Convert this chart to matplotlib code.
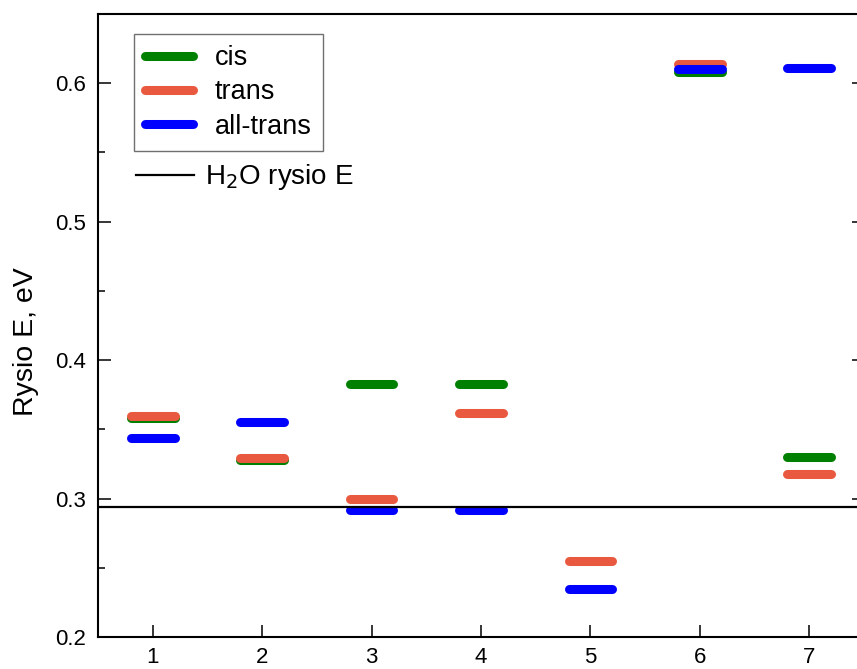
import numpy as np
import matplotlib
matplotlib.use("Agg")
import matplotlib.pyplot as plt
from matplotlib.ticker import MultipleLocator

plt.rcParams["font.family"] = ["Liberation Sans", "DejaVu Sans"]

positions = [1, 2, 3, 4, 5, 6, 7]
cis = [0.358, 0.328, 0.383, 0.383, np.nan, 0.6085, 0.330]
trans = [0.360, 0.329, 0.300, 0.362, 0.255, 0.614, 0.318]
all_trans = [0.344, 0.355, 0.292, 0.292, 0.235, 0.6105, 0.611]
h2o_energy = 0.2942

series = [
    ("cis", cis, "#008000"),
    ("trans", trans, "#E8593F"),
    ("all-trans", all_trans, "#0000FF"),
]

fig = plt.figure(figsize=(8.57, 6.69), dpi=100)
ax = fig.add_axes([0.1144, 0.0478, 0.8938, 0.9312])

half = 0.2
handles = []
for name, vals, color in series:
    first = True
    for x, v in zip(positions, vals):
        if np.isnan(v):
            continue
        ln, = ax.plot([x - half, x + half], [v, v], color=color, lw=6.5,
                      solid_capstyle="round", label=name if first else None)
        if first:
            handles.append(ln)
        first = False

h2o, = ax.plot([0.5, 7.5], [h2o_energy, h2o_energy], color="black", lw=1.6,
               label="H$_2$O rysio E")

ax.set_xlim(0.5, 7.5)
ax.set_ylim(0.2, 0.65)
ax.set_xticks(positions)
ax.yaxis.set_major_locator(MultipleLocator(0.1))
ax.yaxis.set_minor_locator(MultipleLocator(0.05))
ax.tick_params(which="both", direction="in", right=True, labelsize=16, width=1.1)
ax.tick_params(which="major", length=9)
ax.tick_params(which="minor", length=5)
ax.tick_params(axis="x", pad=7)
ax.tick_params(axis="y", pad=9)
for s in ax.spines.values():
    s.set_linewidth(1.5)
ax.set_ylabel("Rysio E, eV", fontsize=20.5)
ax.yaxis.set_label_coords(-0.077, 0.4735)

leg1 = ax.legend(handles=handles, loc="upper left", bbox_to_anchor=(0.047, 0.968),
                 borderaxespad=0, fontsize=19.5, fancybox=False, edgecolor="#707070",
                 framealpha=1, handlelength=1.75, labelspacing=0.3, borderpad=0.42,
                 handletextpad=0.8)
leg1.get_frame().set_linewidth(1.0)
ax.add_artist(leg1)
ax.legend(handles=[h2o], loc="center left", bbox_to_anchor=(0.049, 0.738),
          borderaxespad=0, borderpad=0, frameon=False, fontsize=20,
          handlelength=2.1, handletextpad=0.4)

fig.savefig("out.png", dpi=100)
